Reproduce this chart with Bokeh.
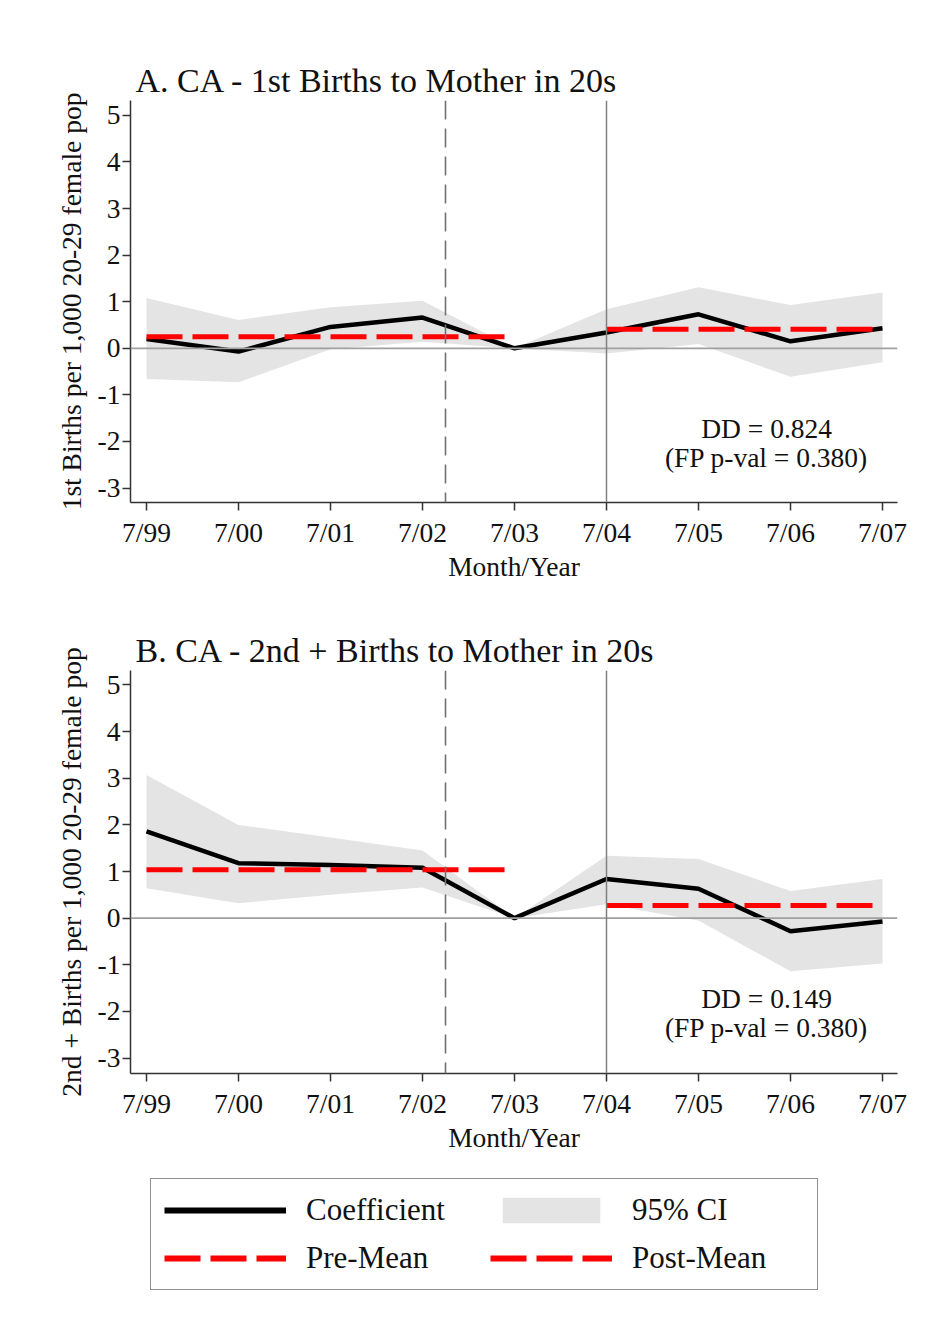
from bokeh.plotting import figure
from bokeh.models import FixedTicker, Span, Legend, LegendItem, ColumnDataSource
from bokeh.layouts import column
from bokeh.core.properties import value
from bokeh.embed import file_html
from bokeh.resources import INLINE

# ---------------- data ----------------
labels = ["7/99", "7/00", "7/01", "7/02", "7/03", "7/04", "7/05", "7/06", "7/07"]
xidx = list(range(len(labels)))
yticks = [-3, -2, -1, 0, 1, 2, 3, 4, 5]
ytick_labels = ["-3", "-2", "-1", "0", "1", "2", "3", "4", "5"]

a_coef = [0.20, -0.07, 0.46, 0.66, 0.00, 0.34, 0.73, 0.15, 0.43]
a_hi = [1.08, 0.61, 0.88, 1.02, 0.00, 0.84, 1.31, 0.93, 1.20]
a_lo = [-0.66, -0.73, -0.02, 0.14, 0.00, -0.11, 0.09, -0.61, -0.30]
a_pre = 0.25
a_post = 0.41
a_dd = ["DD = 0.824", "(FP p-val = 0.380)"]

b_coef = [1.86, 1.18, 1.14, 1.08, 0.00, 0.84, 0.63, -0.28, -0.07]
b_hi = [3.07, 2.00, 1.73, 1.45, 0.00, 1.34, 1.27, 0.58, 0.84]
b_lo = [0.64, 0.32, 0.50, 0.66, 0.00, 0.30, -0.05, -1.14, -0.97]
b_pre = 1.04
b_post = 0.27
b_dd = ["DD = 0.149", "(FP p-val = 0.380)"]

pre_period = ["7/99", "7/03"]
post_period = ["7/04", "7/07"]
event_x = 3.25          # dashed line (10/02)
policy_label = "7/04"   # solid line
legend_labels = ["Coefficient", "95% CI", "Pre-Mean", "Post-Mean"]

FONT = "Liberation Serif"
CI_COLOR = "#E4E4E4"
RED = "#FF0000"
RED_DASH = "36 10"


def mean_xy(period, level):
    return [labels.index(period[0]), labels.index(period[1])], [level, level]


def panel(title, ylabel, src, pre, post, dd, height, mbt, mbb, yr):
    p = figure(width=922, height=height, x_range=(-0.174, 8.163), y_range=yr,
               output_backend="svg", toolbar_location=None,
               min_border_left=130, min_border_right=25,
               min_border_top=mbt, min_border_bottom=mbb)
    p.outline_line_color = None
    p.grid.visible = False
    p.background_fill_color = "white"

    p.title.text = title
    p.title.text_font = FONT
    p.title.text_font_size = "34px"
    p.title.text_font_style = "normal"
    p.title.text_color = "#111111"
    p.title.offset = 5
    p.title.standoff = 4

    for ax in (p.xaxis[0], p.yaxis[0]):
        ax.axis_line_color = "#333333"
        ax.axis_line_width = 1.5
        ax.major_tick_line_color = "#333333"
        ax.major_tick_line_width = 1.5
        ax.major_tick_out = 8
        ax.major_tick_in = 0
        ax.minor_tick_line_color = None
        ax.major_label_text_font = FONT
        ax.major_label_text_font_size = "27.5px"
        ax.major_label_text_color = "#111111"
        ax.axis_label_text_font = FONT
        ax.axis_label_text_font_size = "27.5px"
        ax.axis_label_text_font_style = "normal"
        ax.axis_label_text_color = "#111111"

    p.xaxis.ticker = FixedTicker(ticks=xidx)
    p.xaxis.major_label_overrides = {i: l for i, l in zip(xidx, labels)}
    p.xaxis.major_label_standoff = 6
    p.xaxis.axis_label = "Month/Year"
    p.xaxis.axis_label_standoff = 0

    p.yaxis.ticker = FixedTicker(ticks=yticks)
    p.yaxis.major_label_overrides = {t: l for t, l in zip(yticks, ytick_labels)}
    p.yaxis.major_label_standoff = 2
    p.yaxis.axis_label = ylabel
    p.yaxis.axis_label_standoff = 8

    p.varea(x="x", y1="lo", y2="hi", source=src, fill_color=CI_COLOR, fill_alpha=1.0)

    p.add_layout(Span(location=0, dimension="width", line_color="#A0A0A0", line_width=1.8))
    p.add_layout(Span(location=event_x, dimension="height", line_color="#707070",
                      line_width=1.6, line_dash="19 9"))
    p.add_layout(Span(location=labels.index(policy_label), dimension="height",
                      line_color="#808080", line_width=1.5))

    p.line(x="x", y="coef", source=src, line_color="black", line_width=4.5)

    px, py = mean_xy(pre_period, pre)
    qx, qy = mean_xy(post_period, post)
    p.line(px, py, line_color=RED, line_width=5, line_dash=RED_DASH)
    p.line(qx, qy, line_color=RED, line_width=5, line_dash=RED_DASH)

    p.text(x=[6.74, 6.74], y=[-1.73, -2.35], text=dd, text_font=value(FONT),
           text_font_size="27.5px", text_align="center", text_baseline="middle",
           text_color="#111111")
    return p


src_a = ColumnDataSource(dict(x=xidx, coef=a_coef, lo=a_lo, hi=a_hi))
src_b = ColumnDataSource(dict(x=xidx, coef=b_coef, lo=b_lo, hi=b_hi))

p1 = panel("A. CA - 1st Births to Mother in 20s",
           "1st Births per 1,000 20-29 female pop",
           src_a, a_pre, a_post, a_dd,
           height=595, mbt=100, mbb=93, yr=(-3.31, 5.32))

p2 = panel("B. CA - 2nd + Births to Mother in 20s",
           "2nd + Births per 1,000 20-29 female pop",
           src_b, b_pre, b_post, b_dd,
           height=565, mbt=75, mbb=87, yr=(-3.33, 5.31))

# ---- legend panel: hidden copies of panel B's series act as legend keys ----
p3 = figure(width=922, height=152, output_backend="svg", toolbar_location=None,
            x_axis_type=None, y_axis_type=None,
            min_border_left=0, min_border_right=0, min_border_top=0, min_border_bottom=0)
p3.outline_line_color = None
p3.grid.visible = False
r_co = p3.line(x="x", y="coef", source=src_b, line_color="black", line_width=6, visible=False)
r_ci = p3.varea(x="x", y1="lo", y2="hi", source=src_b, fill_color=CI_COLOR, fill_alpha=1.0,
                visible=False)
px, py = mean_xy(pre_period, b_pre)
qx, qy = mean_xy(post_period, b_post)
r_pr = p3.line(px, py, line_color=RED, line_width=6, line_dash=RED_DASH, visible=False)
r_po = p3.line(qx, qy, line_color=RED, line_width=6, line_dash=RED_DASH, visible=False)

legend = Legend(items=[
    LegendItem(label=legend_labels[0], renderers=[r_co]),
    LegendItem(label=legend_labels[1], renderers=[r_ci]),
    LegendItem(label=legend_labels[2], renderers=[r_pr]),
    LegendItem(label=legend_labels[3], renderers=[r_po]),
], orientation="horizontal", ncols=2, location=(20, 22))
legend.label_text_font = FONT
legend.label_text_font_size = "31px"
legend.label_text_color = "#111111"
legend.glyph_width = 122
legend.glyph_height = 32
legend.label_height = 32
legend.label_width = 172
legend.label_standoff = 20
legend.spacing = 12
legend.padding = 13
legend.margin = 0
legend.border_line_color = "#222222"
legend.border_line_width = 1.5
legend.background_fill_color = "white"
legend.inactive_fill_alpha = 0.0
p3.add_layout(legend, "center")

layout = column(p1, p2, p3)
open("out.html", "w").write(file_html(layout, INLINE))
